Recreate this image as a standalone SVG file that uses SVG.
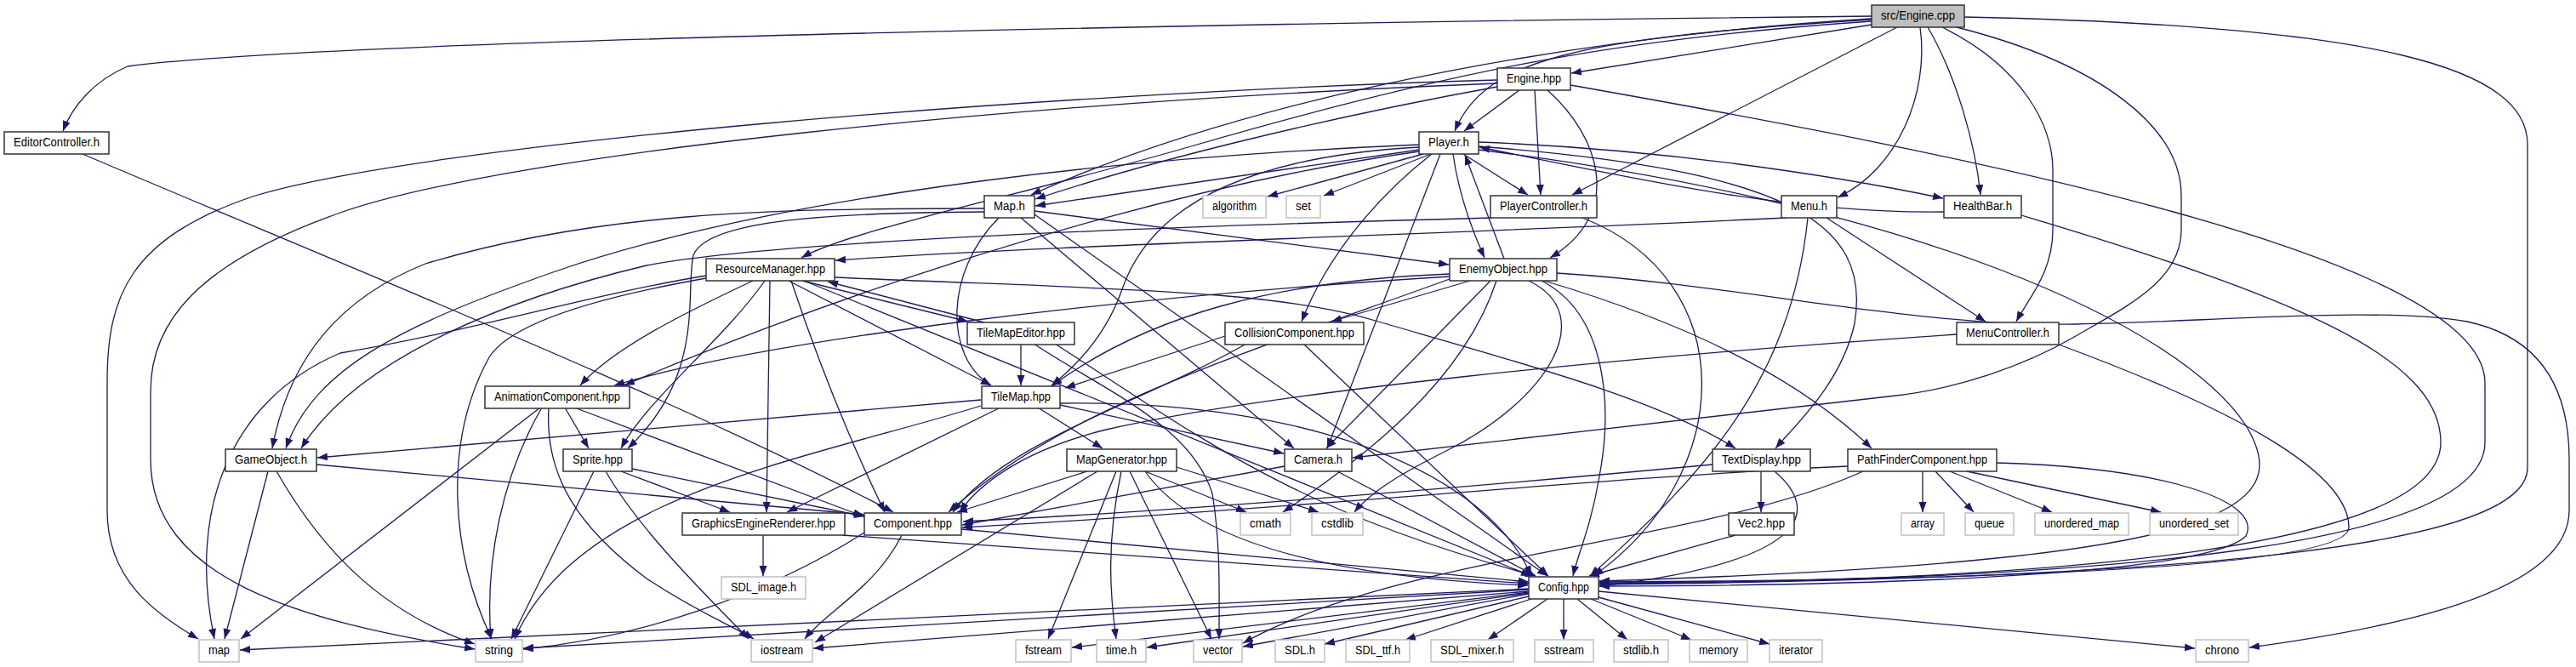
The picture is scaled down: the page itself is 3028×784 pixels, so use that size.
<svg xmlns="http://www.w3.org/2000/svg" width="3028" height="784" viewBox="0 0 3028 784">
<defs>
<style>
#edges path{fill:none;stroke:#191970;stroke-width:1.3;marker-end:url(#ah)}
rect{stroke-width:1.5}
.n{fill:#fff;stroke:#333}
.g{fill:#fff;stroke:#c0c0c0}
.s{fill:#bfbfbf;stroke:#333}
text{font-family:"Liberation Sans Narrow","Liberation Sans",Arial,sans-serif;font-size:14px;text-anchor:middle;fill:#000}
</style>
<marker id="ah" markerWidth="13" markerHeight="10" refX="12" refY="4.5" orient="auto" markerUnits="userSpaceOnUse"><path d="M0,0 L12,4.5 L0,9 z" fill="#191970"/></marker>
</defs>
<rect x="0" y="0" width="3028" height="784" fill="#fff"/>
<g id="edges">
<path d="M2200,19 C1600,25 400,45 150,78 C110,95 85,125 74,154"/>
<path d="M2200,29 L1847,86"/>
<path d="M2200,23 C1850,45 1745,70 1710,154"/>
<path d="M2200,22 C1900,40 1500,100 1212,229"/>
<path d="M2200,25 C1900,45 1700,85 1400,172 C1200,230 1000,270 942,303"/>
<path d="M2230,32 L1848,229"/>
<path d="M2257,32 C2268,110 2230,200 2160,232"/>
<path d="M2266,32 C2300,90 2322,170 2328,229"/>
<path d="M2283,32 C2380,80 2413,150 2413,200 L2413,270 C2413,320 2385,350 2370,378"/>
<path d="M2300,32 C2470,75 2564,150 2564,230 L2564,270 C2564,330 2500,360 2440,395 C2380,430 2300,458 2220,466 L1590,538"/>
<path d="M2309,20 C2800,30 2971,80 2971,170 L2971,550 C2971,640 2600,680 1880,687"/>
<path d="M97,181 C400,310 800,470 1050,602"/>
<path d="M1786,106 L1721,154"/>
<path d="M1804,106 L1811,229"/>
<path d="M1819,106 C1880,160 1910,250 1822,303"/>
<path d="M1760,102 C1550,140 1350,190 1217,234"/>
<path d="M1846,100 C2300,180 2921,300 2921,450 L2921,520 C2921,640 2500,682 1880,686"/>
<path d="M1760,94 C1200,110 500,170 300,230 C150,280 126,350 126,450 L126,600 C126,680 180,720 233,751"/>
<path d="M1760,98 C1200,120 600,180 400,250 C230,310 177,380 177,460 L177,540 C177,680 350,730 558,763"/>
<path d="M1668,176 L1217,242"/>
<path d="M1673,181 L1490,231"/>
<path d="M1682,181 L1556,230"/>
<path d="M1720,181 L1796,229"/>
<path d="M1738,167 C1950,175 2150,205 2284,233"/>
<path d="M1708,181 C1715,230 1730,270 1745,303"/>
<path d="M1683,181 C1620,230 1560,300 1530,378"/>
<path d="M1693,181 L1560,527"/>
<path d="M1738,172 C2100,200 2200,260 2180,380 C2165,450 2110,500 2087,527"/>
<path d="M1668,173 C1450,185 1350,250 1319,340 C1300,395 1265,430 1236,453"/>
<path d="M1668,178 C1300,230 900,380 734,453"/>
<path d="M1668,170 C1200,190 850,250 650,320 C480,380 370,430 336,527"/>
<path d="M1738,176 C2250,240 2560,380 2640,500 C2700,600 2620,660 1880,683"/>
<path d="M1157,245 C900,245 700,250 500,310 C400,350 340,420 320,527"/>
<path d="M1216,248 L1703,311"/>
<path d="M1174,256 C1110,320 1110,420 1165,453"/>
<path d="M1200,256 L1521,527"/>
<path d="M1216,252 L1819,677"/>
<path d="M1157,249 C950,250 830,262 815,300 C805,345 830,440 738,527"/>
<path d="M1754,256 C1300,268 900,285 760,312 C600,350 420,420 354,527"/>
<path d="M1860,256 C2050,330 2040,560 1873,677"/>
<path d="M2100,256 C1700,275 1200,290 982,306"/>
<path d="M2147,256 L2334,378"/>
<path d="M2125,256 C2105,450 2000,560 1869,677"/>
<path d="M2285,249 C2100,252 1900,205 1739,173"/>
<path d="M2376,253 C2700,350 2869,420 2869,520 C2869,640 2450,684 1880,685"/>
<path d="M943,330 L1138,378"/>
<path d="M1157,379 L973,331"/>
<path d="M927,330 L1165,453"/>
<path d="M885,330 C800,370 720,410 682,453"/>
<path d="M899,330 C850,400 760,470 730,527"/>
<path d="M905,330 L901,602"/>
<path d="M830,324 C700,345 550,390 400,415 C270,470 220,600 252,751"/>
<path d="M830,327 C700,350 600,380 575,420 C520,520 530,650 578,751"/>
<path d="M981,326 C1300,340 1500,340 1620,378 C1800,430 1950,470 2040,527"/>
<path d="M945,330 L1800,677"/>
<path d="M930,330 C960,420 1000,520 1040,602"/>
<path d="M1768,304 L1722,182"/>
<path d="M1728,330 L1565,378"/>
<path d="M1752,330 L1559,527"/>
<path d="M1759,330 C1720,450 1600,540 1508,602"/>
<path d="M1797,330 C1880,370 1820,470 1700,530 C1640,560 1610,580 1592,602"/>
<path d="M1812,330 C1890,370 1895,480 1880,560 C1870,620 1855,650 1849,677"/>
<path d="M1815,330 C1950,370 2100,430 2200,527"/>
<path d="M1830,321 C2050,335 2250,385 2441,381 C2600,378 2800,360 2900,378 C2980,395 3020,450 3020,540 L3020,600 C3020,700 2800,740 2644,761"/>
<path d="M1704,322 C1500,330 1350,370 1236,454"/>
<path d="M1704,325 C1300,350 900,400 722,453"/>
<path d="M1704,328 C1450,420 1250,480 1115,602"/>
<path d="M1200,404 L1200,453"/>
<path d="M1240,404 C1420,520 1520,600 1805,677"/>
<path d="M1215,404 C1300,460 1400,500 1425,580 C1435,640 1433,700 1433,751"/>
<path d="M1440,395 L1252,456"/>
<path d="M1465,404 C1350,470 1180,520 1120,602"/>
<path d="M1532,404 L1820,677"/>
<path d="M2300,393 C1900,420 1500,460 1300,505 C1200,530 1150,570 1128,602"/>
<path d="M2420,405 C2650,490 2761,560 2761,620 C2761,670 2300,682 1880,684"/>
<path d="M664,479 L692,527"/>
<path d="M675,479 L1015,607"/>
<path d="M635,479 L283,751"/>
<path d="M637,479 C590,560 570,660 577,751"/>
<path d="M645,479 C640,560 680,620 760,680 C820,720 860,735 886,751"/>
<path d="M1153,470 L373,538"/>
<path d="M1176,479 L925,602"/>
<path d="M1220,479 L1296,527"/>
<path d="M1246,476 L1509,533"/>
<path d="M1153,477 C950,540 680,580 605,751"/>
<path d="M1246,474 C1550,470 1750,560 1800,677"/>
<path d="M372,546 L1016,605"/>
<path d="M315,554 L264,751"/>
<path d="M325,554 C380,650 450,720 558,757"/>
<path d="M743,551 L1016,607"/>
<path d="M730,554 L858,602"/>
<path d="M698,554 L601,751"/>
<path d="M712,554 C750,620 820,690 880,751"/>
<path d="M1278,554 L1125,602"/>
<path d="M1346,554 L1465,602"/>
<path d="M1383,549 L1550,602"/>
<path d="M1346,554 C1420,660 1650,682 1796,688"/>
<path d="M1290,554 L958,755"/>
<path d="M1312,554 L1232,751"/>
<path d="M1318,554 C1300,640 1305,700 1312,751"/>
<path d="M1328,554 L1424,751"/>
<path d="M1510,548 L1131,617"/>
<path d="M1572,554 L1805,677"/>
<path d="M2070,554 L2070,602"/>
<path d="M2013,546 C1700,575 1400,600 1132,613"/>
<path d="M2086,554 C2140,600 2130,660 1880,689"/>
<path d="M2260,554 L2260,602"/>
<path d="M2275,554 L2320,602"/>
<path d="M2292,554 L2412,602"/>
<path d="M2312,554 L2540,602"/>
<path d="M2172,548 C1900,560 1500,600 1131,620"/>
<path d="M2190,554 C2000,640 1650,650 1461,756"/>
<path d="M2347,544 C2550,550 2660,590 2640,630 C2600,670 2300,688 1880,689"/>
<path d="M897,629 L897,677"/>
<path d="M990,629 L1797,686"/>
<path d="M1130,622 L1797,684"/>
<path d="M1060,629 C1030,690 970,720 946,751"/>
<path d="M1016,626 C900,700 750,750 615,763"/>
<path d="M2040,629 L1868,677"/>
<path d="M1797,692 L282,764"/>
<path d="M1797,693 L615,762"/>
<path d="M1797,695 L956,762"/>
<path d="M1797,696 L1260,761"/>
<path d="M1797,697 L1348,761"/>
<path d="M1797,698 L1461,760"/>
<path d="M1797,701 L1557,757"/>
<path d="M1800,704 L1652,752"/>
<path d="M1819,704 L1749,752"/>
<path d="M1838,704 L1838,752"/>
<path d="M1854,704 L1913,752"/>
<path d="M1870,704 L1988,752"/>
<path d="M1879,702 L2080,757"/>
<path d="M1879,695 L2580,762"/>
</g>
<g id="n_src"><rect class="s" x="2200" y="6" width="109" height="26"/><text x="2254.5" y="23" textLength="87" lengthAdjust="spacingAndGlyphs">src/Engine.cpp</text></g>
<g id="n_editorcontroller"><rect class="n" x="5" y="155" width="123" height="26"/><text x="66.5" y="172" textLength="101" lengthAdjust="spacingAndGlyphs">EditorController.h</text></g>
<g id="n_enginehpp"><rect class="n" x="1760" y="80" width="86" height="26"/><text x="1803" y="97" textLength="64" lengthAdjust="spacingAndGlyphs">Engine.hpp</text></g>
<g id="n_player"><rect class="n" x="1668" y="155" width="70" height="26"/><text x="1703" y="172" textLength="48" lengthAdjust="spacingAndGlyphs">Player.h</text></g>
<g id="n_map_h"><rect class="n" x="1157" y="230" width="59" height="26"/><text x="1186.5" y="247" textLength="37" lengthAdjust="spacingAndGlyphs">Map.h</text></g>
<g id="n_algorithm"><rect class="g" x="1414" y="230" width="74" height="26"/><text x="1451" y="247" textLength="52" lengthAdjust="spacingAndGlyphs">algorithm</text></g>
<g id="n_set"><rect class="g" x="1512" y="230" width="40" height="26"/><text x="1532" y="247" textLength="18" lengthAdjust="spacingAndGlyphs">set</text></g>
<g id="n_playercontroller"><rect class="n" x="1752" y="230" width="125" height="26"/><text x="1814.5" y="247" textLength="103" lengthAdjust="spacingAndGlyphs">PlayerController.h</text></g>
<g id="n_menu"><rect class="n" x="2094" y="230" width="65" height="26"/><text x="2126.5" y="247" textLength="43" lengthAdjust="spacingAndGlyphs">Menu.h</text></g>
<g id="n_healthbar"><rect class="n" x="2285" y="230" width="91" height="26"/><text x="2330.5" y="247" textLength="69" lengthAdjust="spacingAndGlyphs">HealthBar.h</text></g>
<g id="n_resourcemanager"><rect class="n" x="830" y="304" width="151" height="26"/><text x="905.5" y="321" textLength="129" lengthAdjust="spacingAndGlyphs">ResourceManager.hpp</text></g>
<g id="n_enemyobject"><rect class="n" x="1704" y="304" width="126" height="26"/><text x="1767" y="321" textLength="104" lengthAdjust="spacingAndGlyphs">EnemyObject.hpp</text></g>
<g id="n_tilemapeditor"><rect class="n" x="1137" y="379" width="126" height="26"/><text x="1200" y="396" textLength="104" lengthAdjust="spacingAndGlyphs">TileMapEditor.hpp</text></g>
<g id="n_collision"><rect class="n" x="1440" y="379" width="163" height="26"/><text x="1521.5" y="396" textLength="141" lengthAdjust="spacingAndGlyphs">CollisionComponent.hpp</text></g>
<g id="n_menucontroller"><rect class="n" x="2300" y="379" width="120" height="26"/><text x="2360" y="396" textLength="98" lengthAdjust="spacingAndGlyphs">MenuController.h</text></g>
<g id="n_animation"><rect class="n" x="570" y="454" width="170" height="26"/><text x="655" y="471" textLength="148" lengthAdjust="spacingAndGlyphs">AnimationComponent.hpp</text></g>
<g id="n_tilemap"><rect class="n" x="1154" y="454" width="92" height="26"/><text x="1200" y="471" textLength="70" lengthAdjust="spacingAndGlyphs">TileMap.hpp</text></g>
<g id="n_gameobject"><rect class="n" x="265" y="528" width="107" height="26"/><text x="318.5" y="545" textLength="85" lengthAdjust="spacingAndGlyphs">GameObject.h</text></g>
<g id="n_sprite"><rect class="n" x="662" y="528" width="81" height="26"/><text x="702.5" y="545" textLength="59" lengthAdjust="spacingAndGlyphs">Sprite.hpp</text></g>
<g id="n_mapgenerator"><rect class="n" x="1254" y="528" width="129" height="26"/><text x="1318.5" y="545" textLength="107" lengthAdjust="spacingAndGlyphs">MapGenerator.hpp</text></g>
<g id="n_camera"><rect class="n" x="1510" y="528" width="79" height="26"/><text x="1549.5" y="545" textLength="57" lengthAdjust="spacingAndGlyphs">Camera.h</text></g>
<g id="n_textdisplay"><rect class="n" x="2013" y="528" width="115" height="26"/><text x="2070.5" y="545" textLength="93" lengthAdjust="spacingAndGlyphs">TextDisplay.hpp</text></g>
<g id="n_pathfinder"><rect class="n" x="2172" y="528" width="175" height="26"/><text x="2259.5" y="545" textLength="153" lengthAdjust="spacingAndGlyphs">PathFinderComponent.hpp</text></g>
<g id="n_ger"><rect class="n" x="802" y="603" width="191" height="26"/><text x="897.5" y="620" textLength="169" lengthAdjust="spacingAndGlyphs">GraphicsEngineRenderer.hpp</text></g>
<g id="n_component"><rect class="n" x="1016" y="603" width="114" height="26"/><text x="1073" y="620" textLength="92" lengthAdjust="spacingAndGlyphs">Component.hpp</text></g>
<g id="n_cmath"><rect class="g" x="1458" y="603" width="59" height="26"/><text x="1487.5" y="620" textLength="37" lengthAdjust="spacingAndGlyphs">cmath</text></g>
<g id="n_cstdlib"><rect class="g" x="1542" y="603" width="60" height="26"/><text x="1572" y="620" textLength="38" lengthAdjust="spacingAndGlyphs">cstdlib</text></g>
<g id="n_vec2"><rect class="n" x="2032" y="603" width="77" height="26"/><text x="2070.5" y="620" textLength="55" lengthAdjust="spacingAndGlyphs">Vec2.hpp</text></g>
<g id="n_array"><rect class="g" x="2235" y="603" width="50" height="26"/><text x="2260" y="620" textLength="28" lengthAdjust="spacingAndGlyphs">array</text></g>
<g id="n_queue"><rect class="g" x="2310" y="603" width="57" height="26"/><text x="2338.5" y="620" textLength="35" lengthAdjust="spacingAndGlyphs">queue</text></g>
<g id="n_unordered_map"><rect class="g" x="2392" y="603" width="110" height="26"/><text x="2447" y="620" textLength="88" lengthAdjust="spacingAndGlyphs">unordered_map</text></g>
<g id="n_unordered_set"><rect class="g" x="2527" y="603" width="104" height="26"/><text x="2579" y="620" textLength="82" lengthAdjust="spacingAndGlyphs">unordered_set</text></g>
<g id="n_sdl_image"><rect class="g" x="848" y="678" width="99" height="26"/><text x="897.5" y="695" textLength="77" lengthAdjust="spacingAndGlyphs">SDL_image.h</text></g>
<g id="n_config"><rect class="n" x="1797" y="678" width="82" height="26"/><text x="1838" y="695" textLength="60" lengthAdjust="spacingAndGlyphs">Config.hpp</text></g>
<g id="n_map"><rect class="g" x="234" y="752" width="47" height="26"/><text x="257.5" y="769" textLength="25" lengthAdjust="spacingAndGlyphs">map</text></g>
<g id="n_string"><rect class="g" x="559" y="752" width="55" height="26"/><text x="586.5" y="769" textLength="33" lengthAdjust="spacingAndGlyphs">string</text></g>
<g id="n_iostream"><rect class="g" x="883" y="752" width="72" height="26"/><text x="919" y="769" textLength="50" lengthAdjust="spacingAndGlyphs">iostream</text></g>
<g id="n_fstream"><rect class="g" x="1194" y="752" width="65" height="26"/><text x="1226.5" y="769" textLength="43" lengthAdjust="spacingAndGlyphs">fstream</text></g>
<g id="n_time"><rect class="g" x="1289" y="752" width="58" height="26"/><text x="1318" y="769" textLength="36" lengthAdjust="spacingAndGlyphs">time.h</text></g>
<g id="n_vector"><rect class="g" x="1403" y="752" width="57" height="26"/><text x="1431.5" y="769" textLength="35" lengthAdjust="spacingAndGlyphs">vector</text></g>
<g id="n_sdl"><rect class="g" x="1499" y="752" width="58" height="26"/><text x="1528" y="769" textLength="36" lengthAdjust="spacingAndGlyphs">SDL.h</text></g>
<g id="n_sdl_ttf"><rect class="g" x="1582" y="752" width="75" height="26"/><text x="1619.5" y="769" textLength="53" lengthAdjust="spacingAndGlyphs">SDL_ttf.h</text></g>
<g id="n_sdl_mixer"><rect class="g" x="1682" y="752" width="97" height="26"/><text x="1730.5" y="769" textLength="75" lengthAdjust="spacingAndGlyphs">SDL_mixer.h</text></g>
<g id="n_sstream"><rect class="g" x="1804" y="752" width="69" height="26"/><text x="1838.5" y="769" textLength="47" lengthAdjust="spacingAndGlyphs">sstream</text></g>
<g id="n_stdlib"><rect class="g" x="1897" y="752" width="64" height="26"/><text x="1929" y="769" textLength="42" lengthAdjust="spacingAndGlyphs">stdlib.h</text></g>
<g id="n_memory"><rect class="g" x="1986" y="752" width="68" height="26"/><text x="2020" y="769" textLength="46" lengthAdjust="spacingAndGlyphs">memory</text></g>
<g id="n_iterator"><rect class="g" x="2080" y="752" width="62" height="26"/><text x="2111" y="769" textLength="40" lengthAdjust="spacingAndGlyphs">iterator</text></g>
<g id="n_chrono"><rect class="g" x="2581" y="752" width="62" height="26"/><text x="2612" y="769" textLength="40" lengthAdjust="spacingAndGlyphs">chrono</text></g>
</svg>
